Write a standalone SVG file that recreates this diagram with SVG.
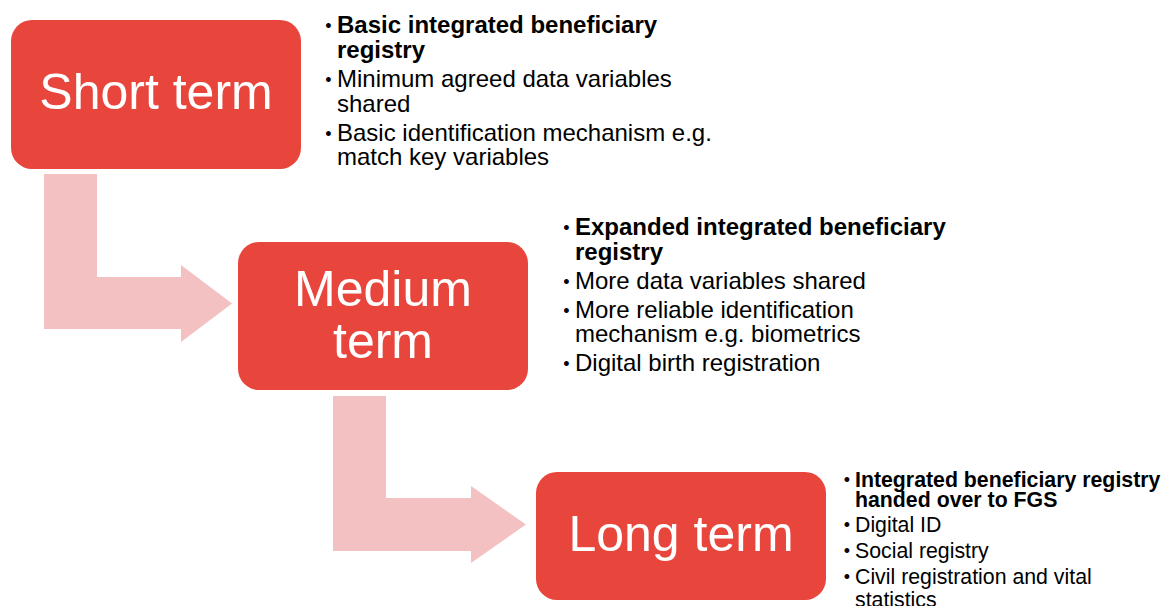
<svg xmlns="http://www.w3.org/2000/svg" width="1163" height="606" viewBox="0 0 1163 606">
  <style>
    .box { fill: #E8463D; }
    .flow { fill: #F3C1C1; }
    .title { font-family: "Liberation Sans", Arial, sans-serif; font-size: 50px; fill: #FFFFFF; text-anchor: middle; }
    .item { font-family: "Liberation Sans", Arial, sans-serif; fill: #000000; }
    .l24 { font-size: 24px; }
    .l21 { font-size: 21.3px; }
    .b { font-weight: bold; }
    .dot { font-size: 18px; text-anchor: middle; }
  </style>
  <rect width="1163" height="606" fill="#FFFFFF"/>

  <!-- bent flow arrows between stages -->
  <g id="connectors">
    <path class="flow" d="M44,174 H97 V277 H181 V265 L232,303.5 L181,342 V329 H44 Z"/>
    <path class="flow" d="M333,396 H386 V498 H471 V486 L526,524.5 L471,563 V551 H333 Z"/>
  </g>

  <g id="short-term">
    <rect class="box" x="11" y="20" width="290" height="149" rx="21"/>
    <text class="title" x="156" y="109">Short term</text>
  </g>
  <g id="short-term-notes" class="item l24">
    <text class="dot" x="328.5" y="32">•</text>
    <text class="b" x="337" y="33">Basic integrated beneficiary</text>
    <text class="b" x="337" y="58">registry</text>
    <text class="dot" x="328.5" y="86">•</text>
    <text x="337" y="87">Minimum agreed data variables</text>
    <text x="337" y="112">shared</text>
    <text class="dot" x="328.5" y="140">•</text>
    <text x="337" y="141">Basic identification mechanism e.g.</text>
    <text x="337" y="165">match key variables</text>
  </g>

  <g id="medium-term">
    <rect class="box" x="238" y="242" width="290" height="148" rx="21"/>
    <text class="title" x="383" y="306">Medium</text>
    <text class="title" x="383" y="358">term</text>
  </g>
  <g id="medium-term-notes" class="item l24">
    <text class="dot" x="566.5" y="234">•</text>
    <text class="b" x="575" y="235">Expanded integrated beneficiary</text>
    <text class="b" x="575" y="260">registry</text>
    <text class="dot" x="566.5" y="288">•</text>
    <text x="575" y="289">More data variables shared</text>
    <text class="dot" x="566.5" y="317">•</text>
    <text x="575" y="318">More reliable identification</text>
    <text x="575" y="342">mechanism e.g. biometrics</text>
    <text class="dot" x="566.5" y="370">•</text>
    <text x="575" y="371">Digital birth registration</text>
  </g>

  <g id="long-term">
    <rect class="box" x="536" y="472" width="290" height="128" rx="21"/>
    <text class="title" x="681" y="551">Long term</text>
  </g>
  <g id="long-term-notes" class="item l21">
    <text class="dot" x="847" y="486">•</text>
    <text class="b" x="855" y="487">Integrated beneficiary registry</text>
    <text class="b" x="855" y="507">handed over to FGS</text>
    <text class="dot" x="847" y="531">•</text>
    <text x="855" y="532">Digital ID</text>
    <text class="dot" x="847" y="557">•</text>
    <text x="855" y="558">Social registry</text>
    <text class="dot" x="847" y="583">•</text>
    <text x="855" y="584">Civil registration and vital</text>
    <text x="855" y="607">statistics</text>
  </g>
</svg>
